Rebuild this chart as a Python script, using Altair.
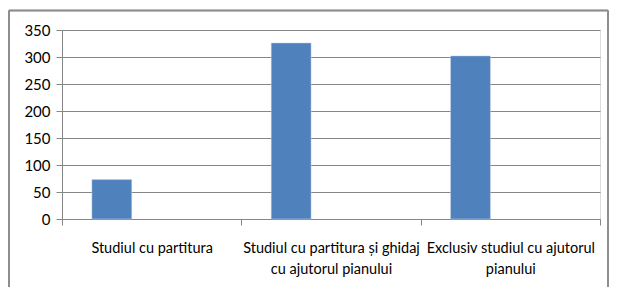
import altair as alt
import pandas as pd

categories = [
    "Studiul cu partitura",
    "Studiul cu partitura și ghidaj cu ajutorul pianului",
    "Exclusiv studiul cu ajutorul pianului",
]
label_lines = [
    ["Studiul cu partitura"],
    ["Studiul cu partitura și ghidaj", "cu ajutorul pianului"],
    ["Exclusiv studiul cu ajutorul", "pianului"],
]
values = [73, 326, 302]
series = ["Seria 1", "Seria 2", "Seria 3"]
y_ticks = [0, 50, 100, 150, 200, 250, 300, 350]

df = pd.DataFrame({"cat": categories, "val": values, "ser": [series[0]] * 3})

# build multiline label expression
expr = "''"
for c, lines in reversed(list(zip(categories, label_lines))):
    arr = "[" + ",".join("'" + l + "'" for l in lines) + "]"
    expr = f"datum.label == '{c}' ? {arr} : ({expr})"

FONT = "Lato, Liberation Sans, sans-serif"

bars = alt.Chart(df).mark_bar(color="#4F81BD", stroke="#C6D5E8", strokeWidth=0.5).encode(
    x=alt.X(
        "cat:N",
        sort=categories,
        scale=alt.Scale(paddingInner=0, paddingOuter=0),
        axis=alt.Axis(
            title=None,
            labelExpr=expr,
            labelAngle=0,
            labelFont=FONT,
            labelFontSize=14.5,
            labelColor="#000000",
            labelPadding=16,
            labelLineHeight=21,
            labelLimit=300,
            tickBand="extent",
            tickSize=6,
            tickColor="#868686",
            domainColor="#868686",
            grid=False,
        ),
    ),
    xOffset=alt.XOffset(
        "ser:N",
        scale=alt.Scale(domain=series, paddingInner=0, paddingOuter=0.75),
    ),
    y=alt.Y(
        "val:Q",
        scale=alt.Scale(domain=[0, 350], nice=False),
        axis=alt.Axis(
            title=None,
            values=y_ticks,
            labelFont=FONT,
            labelFontSize=15,
            labelColor="#000000",
            labelPadding=6,
            tickSize=6,
            tickColor="#868686",
            domainColor="#868686",
            gridColor="#868686",
            gridWidth=1,
        ),
    ),
)

frame_style = dict(color="#8C8C8C", strokeWidth=1.5)
top = alt.Chart(df).mark_rule(**frame_style).encode(
    x=alt.value(-53), x2=alt.value(546), y=alt.value(-19.5)
)
left = alt.Chart(df).mark_rule(**frame_style).encode(
    x=alt.value(-53), y=alt.value(-19.5), y2=alt.value(260)
)
right = alt.Chart(df).mark_rule(**frame_style).encode(
    x=alt.value(546), y=alt.value(-19.5), y2=alt.value(260)
)

chart = (
    alt.layer(bars, top, left, right)
    .properties(
        width=538,
        height=189,
        autosize=alt.AutoSizeParams(type="none"),
        padding={"left": 54, "top": 22, "right": 9, "bottom": 68},
    )
    .configure_view(stroke=None)
    .configure(background="white")
)

chart.save("out.html", embed_options={"renderer": "svg", "actions": False})
